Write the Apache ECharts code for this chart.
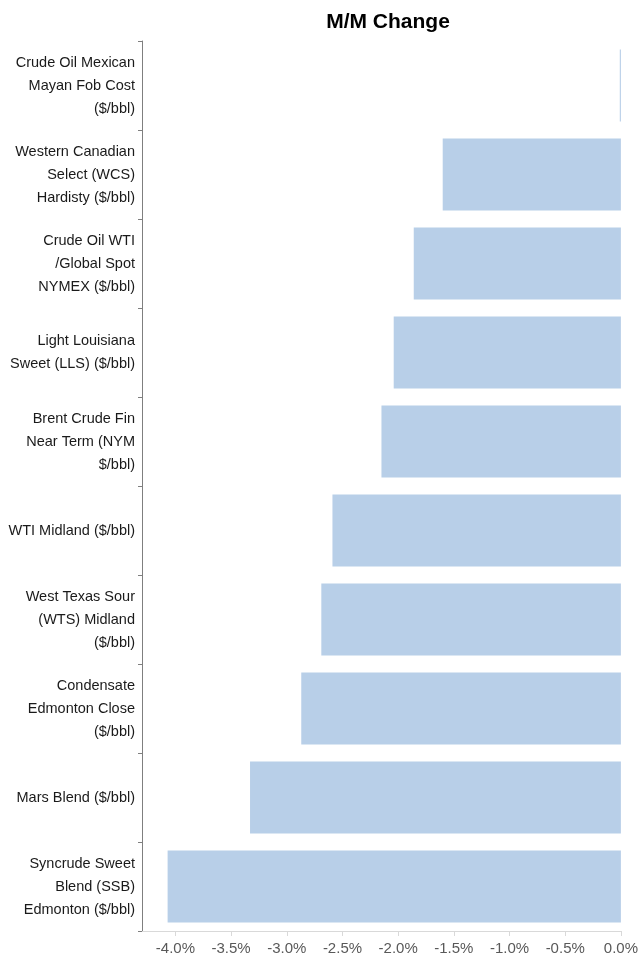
<!DOCTYPE html>
<html>
<head>
<meta charset="utf-8">
<script src="https://cdn.jsdelivr.net/npm/echarts@6/dist/echarts.min.js"></script>
<style>html,body{margin:0;padding:0;background:#fff;}#c{width:641px;height:959px;}</style>
</head>
<body>
<div id="c"></div>
<script>
const categories = [
  "Crude Oil Mexican\nMayan Fob Cost\n($/bbl)",
  "Western Canadian\nSelect (WCS)\nHardisty ($/bbl)",
  "Crude Oil WTI\n/Global Spot\nNYMEX ($/bbl)",
  "Light Louisiana\nSweet (LLS) ($/bbl)",
  "Brent Crude Fin\nNear Term (NYM\n$/bbl)",
  "WTI Midland ($/bbl)",
  "West Texas Sour\n(WTS) Midland\n($/bbl)",
  "Condensate\nEdmonton Close\n($/bbl)",
  "Mars Blend ($/bbl)",
  "Syncrude Sweet\nBlend (SSB)\nEdmonton ($/bbl)"
];
const mmChange = [-0.01, -1.60, -1.86, -2.04, -2.15, -2.59, -2.69, -2.87, -3.33, -4.07];
const tickValues = [-4.0, -3.5, -3.0, -2.5, -2.0, -1.5, -1.0, -0.5, 0.0];
const titleText = "M/M Change";

const chart = echarts.init(document.getElementById('c'), null, {renderer: 'canvas'});
chart.setOption({
  animation: false,
  backgroundColor: '#ffffff',
  title: {
    text: titleText,
    left: 383, top: 7, textAlign: 'center',
    textStyle: {fontFamily: 'Liberation Sans, Arial, sans-serif', fontSize: 21, fontWeight: 'bold', color: '#000'}
  },
  grid: {left: 142, right: 17, top: 41, bottom: 28, containLabel: false},
  xAxis: {
    type: 'value', min: -4.3, max: 0,
    axisLine: {show: true, onZero: false, lineStyle: {color: '#d9d9d9', width: 1}},
    axisTick: {show: true, customValues: tickValues, length: 5, lineStyle: {color: '#d9d9d9'}},
    axisLabel: {
      customValues: tickValues, margin: 10,
      formatter: v => v.toFixed(1) + '%',
      fontFamily: 'Liberation Sans, Arial, sans-serif', fontSize: 15, color: '#595959'
    },
    splitLine: {show: false}
  },
  yAxis: {
    type: 'category', data: categories, inverse: true,
    axisLine: {show: true, onZero: false, lineStyle: {color: '#7f7f7f', width: 1}},
    axisTick: {show: true, length: 4, lineStyle: {color: '#7f7f7f'}},
    axisLabel: {
      margin: 7, align: 'right', lineHeight: 23,
      fontFamily: 'Liberation Sans, Arial, sans-serif', fontSize: 14.5, color: '#1a1a1a'
    }
  },
  series: [{
    type: 'bar', data: mmChange, barCategoryGap: '19%',
    itemStyle: {color: '#b8cfe8'}
  }]
});
</script>
</body>
</html>
